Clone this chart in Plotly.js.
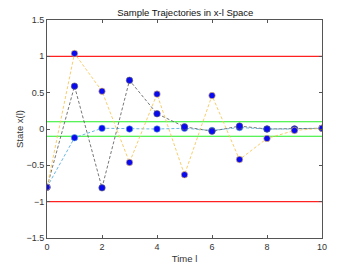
<!DOCTYPE html>
<html>
<head>
<meta charset="utf-8">
<script src="https://cdn.plot.ly/plotly-3.0.1.min.js"></script>
<style>html,body{margin:0;padding:0;background:#fff;}#chart{width:357px;height:268px;}</style>
</head>
<body>
<div id="chart"></div>
<script>
const timeSteps = [0, 1, 2, 3, 4, 5, 6, 7, 8, 9, 10];
const trajBlue = [-0.80, -0.12, 0.01, 0.00, 0.00, 0.01, -0.02, 0.02, 0.00, 0.00, 0.01];
const trajGray = [-0.80, 0.59, -0.81, 0.67, 0.21, 0.03, -0.03, 0.04, 0.00, 0.00, 0.01];
const trajOrange = [-0.80, 1.04, 0.52, -0.46, 0.48, -0.63, 0.46, -0.42, -0.13, -0.02, 0.01];
const redBounds = [1, -1];
const greenBounds = [0.1, -0.1];
const xRange = [0, 10];
const yRange = [-1.5, 1.5];
const xTicks = [0, 2, 4, 6, 8, 10];
const yTicks = [-1.5, -1, -0.5, 0, 0.5, 1, 1.5];

const FONT = 'Liberation Sans, Arial, sans-serif';
const traces = [];
redBounds.forEach(v => traces.push({x: xRange, y: [v, v], mode: 'lines', line: {color: '#FF2020', width: 1.2}, hoverinfo: 'skip'}));
greenBounds.forEach(v => traces.push({x: xRange, y: [v, v], mode: 'lines', line: {color: '#22EE22', width: 1.2}, hoverinfo: 'skip'}));
const series = [
  {y: trajBlue, c: '#5AAEE0'},
  {y: trajGray, c: '#666666'},
  {y: trajOrange, c: '#F7C75A'}
];
series.forEach(s => traces.push({
  x: timeSteps, y: s.y, mode: 'lines+markers',
  line: {color: s.c, width: 0.9, dash: '3px,2px'},
  marker: {color: '#0A0AF0', size: 6.5, line: {color: s.c, width: 0.6}}
}));

const axisCommon = {
  showgrid: false, zeroline: false, showline: true, mirror: 'ticks',
  linecolor: '#555', linewidth: 1, ticks: 'inside', ticklen: 3, tickcolor: '#555',
  tickfont: {family: FONT, size: 9, color: '#333'}
};
const layout = {
  width: 357, height: 268,
  margin: {l: 46.5, r: 34.5, t: 20, b: 29.5},
  paper_bgcolor: '#fff', plot_bgcolor: '#fff',
  showlegend: false,
  title: {text: 'Sample Trajectories in x-l Space', x: 0.519, xanchor: 'center', y: 0.952, yanchor: 'middle',
          font: {family: FONT, size: 9.5, color: '#111'}},
  xaxis: Object.assign({}, axisCommon, {range: xRange, tickvals: xTicks,
          title: {text: 'Time l', standoff: 4, font: {family: FONT, size: 9.5, color: '#333'}}}),
  yaxis: Object.assign({}, axisCommon, {range: yRange, tickvals: yTicks,
          title: {text: 'State x(l)', standoff: 1, font: {family: FONT, size: 9.5, color: '#333'}}})
};
Plotly.newPlot('chart', traces, layout, {staticPlot: true, displayModeBar: false});
</script>
</body>
</html>
